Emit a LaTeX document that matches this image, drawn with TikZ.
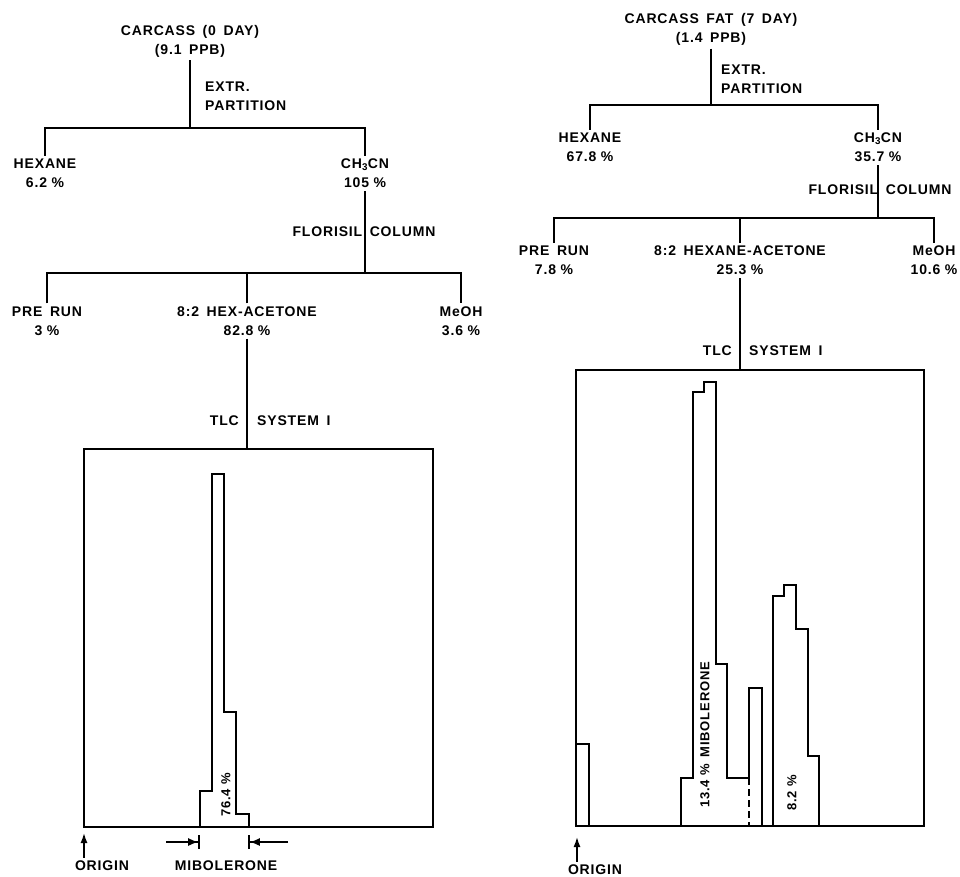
\documentclass[tikz,border=0pt]{standalone}
\usepackage{fontspec}
\setmainfont{Liberation Sans}[LetterSpace=6, WordSpace=1.6]
\usepackage{tikz}
\usetikzlibrary{positioning, arrows.meta}

\newcommand{\pct}{\hspace{4.5pt}\%}
\tikzset{
    lbl/.style={font=\fontsize{14}{19}\selectfont\bfseries, align=center, inner sep=3pt},
    tree/.style={line width=1.5pt},
    plate/.style={line width=2.6pt, line join=miter},
    hist/.style={line width=2.5pt},
    rlbl/.style={font=\fontsize{13}{15}\selectfont\bfseries, rotate=90, inner sep=0pt},
    arr/.style={line width=1.5pt, -{Latex[length=10pt,width=7pt]}},
    barr/.style={line width=1.5pt, -{Latex[length=10pt,width=8pt]Bar[width=14pt,line width=1.8pt]}}
}

\begin{document}
\begin{tikzpicture}[x=1pt, y=-1pt]
    \useasboundingbox (0,0) rectangle (960,876);

    % left: carcass 0 day
    \node[lbl] (src0) at (190,41) {CARCASS (0 DAY)\\(9.1 PPB)};
    \node[lbl, anchor=west, align=left] (ext0) at (202,96) {EXTR.\\PARTITION};
    \coordinate (b0) at (190,128);
    \node[lbl] (hex0) at (45,173.5) {HEXANE\\6.2\pct};
    \node[lbl] (ch0) at (365,173.5) {CH\textsubscript{3}CN\\105\pct};
    \node[lbl] (flo0) at (364,232) {FLORISIL COLUMN};
    \coordinate (b1) at (365,273);
    \node[lbl] (pre0) at (47,321) {PRE RUN\\3\pct};
    \node[lbl] (hxa0) at (247,321) {8:2 HEX-ACETONE\\82.8\pct};
    \node[lbl] (meo0) at (461,321) {MeOH\\3.6\pct};
    \coordinate (top0) at (247,449);
    \node[lbl, anchor=east] (tlc0) at (242,421) {TLC};
    \node[lbl, anchor=west] (sys0) at (254,421) {SYSTEM I};

    \draw[tree] (src0) -- (b0);
    \draw[tree] (hex0) |- (b0) -| (ch0);
    \draw[tree] (ch0) -- (b1);
    \draw[tree] (pre0) |- (b1) -| (meo0);
    \draw[tree] (hxa0) -- (hxa0 |- b1);
    \draw[tree] (hxa0) -- (top0);

    \draw[plate] (84,449) rectangle (433,827);
    \draw[hist] (200,827) -- (200,791) -- (212,791) -- (212,474) -- (224,474) -- (224,712)
        -- (236,712) -- (236,814) -- (249,814) -- (249,827);
    \node[rlbl] (pk0) at (226,795) {76.4\pct};

    \node[lbl] (org0) at (102,866) {ORIGIN};
    \coordinate (o0) at (84,833);
    \draw[arr] (o0 |- org0.north) -- (o0);
    \node[lbl] (mib0) at (226,866) {MIBOLERONE};
    \coordinate (m0l) at (200,842);
    \coordinate (m0r) at (248,842);
    \draw[barr] (166,842) -- (m0l);
    \draw[barr] (288,842) -- (m0r);

    % right: carcass fat 7 day
    \node[lbl] (src1) at (711,29.5) {CARCASS FAT (7 DAY)\\(1.4 PPB)};
    \node[lbl, anchor=west, align=left] (ext1) at (718,79) {EXTR.\\PARTITION};
    \coordinate (b2) at (711,105);
    \node[lbl] (hex1) at (590,147.5) {HEXANE\\67.8\pct};
    \node[lbl] (ch1) at (878,147.5) {CH\textsubscript{3}CN\\35.7\pct};
    \node[lbl] (flo1) at (880,190) {FLORISIL COLUMN};
    \coordinate (b3) at (878,218);
    \node[lbl] (pre1) at (554,260.5) {PRE RUN\\7.8\pct};
    \node[lbl] (hxa1) at (740,260.5) {8:2 HEXANE-ACETONE\\25.3\pct};
    \node[lbl] (meo1) at (934,260.5) {MeOH\\10.6\pct};
    \coordinate (top1) at (740,370);
    \node[lbl, anchor=east] (tlc1) at (735,351) {TLC};
    \node[lbl, anchor=west] (sys1) at (746,351) {SYSTEM I};

    \draw[tree] (src1) -- (b2);
    \draw[tree] (hex1) |- (b2) -| (ch1);
    \draw[tree] (ch1) -- (b3);
    \draw[tree] (pre1) |- (b3) -| (meo1);
    \draw[tree] (hxa1) -- (hxa1 |- b3);
    \draw[tree] (hxa1) -- (top1);

    \draw[plate] (576,370) rectangle (924,826);
    \draw[hist] (576,744) -- (589,744) -- (589,826);
    \draw[hist] (681,826) -- (681,778) -- (693,778) -- (693,392) -- (704,392) -- (704,382)
        -- (716,382) -- (716,664) -- (727,664) -- (727,778) -- (749,778) -- (749,688)
        -- (762,688) -- (762,826);
    \draw[hist, dashed, dash pattern=on 7pt off 4pt] (749,778) -- (749,826);
    \draw[hist] (773,826) -- (773,596) -- (784,596) -- (784,585) -- (796,585) -- (796,629)
        -- (808,629) -- (808,756) -- (819,756) -- (819,826);
    \node[rlbl] (pk1) at (705,735) {13.4\pct{} MIBOLERONE};
    \node[rlbl] (pk2) at (792,793) {8.2\pct};

    \node[lbl] (org1) at (595,870) {ORIGIN};
    \coordinate (o1) at (577,837);
    \draw[arr] (o1 |- org1.north) -- (o1);
\end{tikzpicture}
\end{document}
